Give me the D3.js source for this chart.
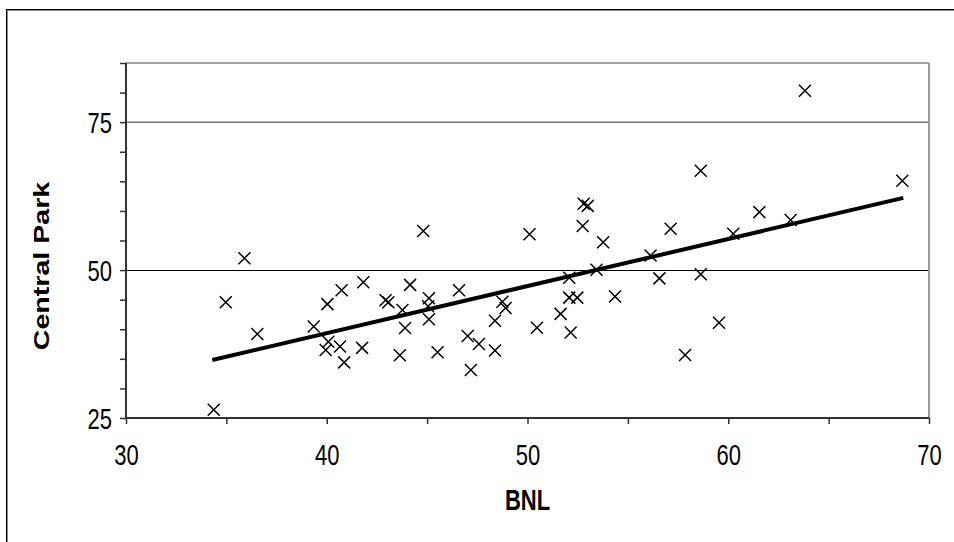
<!DOCTYPE html>
<html>
<head>
<meta charset="utf-8">
<script src="https://cdn.jsdelivr.net/npm/d3@7"></script>
<style>
  html, body { margin: 0; padding: 0; background: #fff; }
  svg { display: block; }
  text { font-family: "Liberation Sans", Arial, sans-serif; fill: #000; }
</style>
</head>
<body>
<svg id="chart" width="954" height="542"></svg>
<script>
// ---- Data ----
const bnl = [34.37,34.97,35.9,36.54,39.35,40.03,40.74,41.82,42.93,43.07,43.77,44.15,43.9,40.08,39.95,40.66,40.87,41.76,43.64,44.81,45.09,45.05,45.09,46.59,45.52,47.02,47.58,47.18,48.38,48.38,48.75,48.91,50.47,50.1,51.65,52.08,52.08,52.48,52.15,52.75,52.8,53.0,53.44,53.77,54.36,56.13,56.57,57.13,57.85,58.63,58.63,59.54,60.25,61.55,63.11,63.82,68.67];
const centralPark = [26.4,44.55,52.0,39.2,40.45,44.25,46.6,47.95,44.9,44.55,43.25,47.5,40.2,37.9,36.5,37.1,34.4,36.85,35.6,56.6,45.25,43.9,41.7,46.6,36.1,38.86,37.5,33.1,36.4,41.45,44.65,43.6,40.25,56.05,42.6,48.7,45.35,45.35,39.45,57.45,61.2,60.85,50.05,54.7,45.55,52.45,48.6,57.0,35.65,66.8,49.3,41.1,56.15,59.8,58.45,80.3,65.1];
const trendX = [34.3, 68.72];
const trendY = [34.8, 62.2];
const xTickLabels = [30, 40, 50, 60, 70];
const yTickLabels = [25, 50, 75];
const xDomain = [30, 70];
const yDomain = [25, 85];

// ---- Layout ----
const svg = d3.select("#chart");
const pLeft = 126, pRight = 929, pTop = 63, pBottom = 418;
const stretch = 1.3; // glyphs in the reference are taller than wide

// outer frame
svg.append("rect").attr("x", 7).attr("y", 10).attr("width", 960).attr("height", 560)
  .attr("fill", "none").attr("stroke", "#888").attr("stroke-width", 2);
svg.append("rect").attr("x", 6.5).attr("y", 9.5).attr("width", 960).attr("height", 560)
  .attr("fill", "none").attr("stroke", "#000").attr("stroke-width", 1);

const x = d3.scaleLinear().domain(xDomain).range([pLeft, pRight]);
const y = d3.scaleLinear().domain(yDomain).range([pBottom, pTop]);

// gridlines
const g = svg.append("g");
g.append("line").attr("x1", pLeft).attr("x2", pRight).attr("y1", y(85)).attr("y2", y(85))
  .attr("stroke", "#808080").attr("stroke-width", 1.5);
g.append("line").attr("x1", pLeft).attr("x2", pRight).attr("y1", y(75)).attr("y2", y(75))
  .attr("stroke", "#707070").attr("stroke-width", 1.5);
g.append("line").attr("x1", pLeft).attr("x2", pRight).attr("y1", Math.round(y(50)) + 0.5).attr("y2", Math.round(y(50)) + 0.5)
  .attr("stroke", "#000").attr("stroke-width", 1);
// right border
g.append("line").attr("x1", pRight).attr("x2", pRight).attr("y1", pTop).attr("y2", pBottom)
  .attr("stroke", "#999").attr("stroke-width", 2);

// axes
const xAxis = d3.axisBottom(x).tickValues(d3.range(30, 71, 5)).tickSize(6)
  .tickFormat(d => xTickLabels.includes(d) ? d : "");
const yAxis = d3.axisLeft(y).tickValues(d3.range(25, 86, 5)).tickSize(6)
  .tickFormat(d => yTickLabels.includes(d) ? d : "");

const gx = svg.append("g").attr("transform", `translate(0,${pBottom})`).call(xAxis);
const gy = svg.append("g").attr("transform", `translate(${pLeft},0)`).call(yAxis);
[gx, gy].forEach(a => {
  a.attr("font-size", 22).attr("font-family", "'Liberation Sans', Arial, sans-serif");
  a.select(".domain").attr("stroke", "#333").attr("stroke-width", 2);
  a.selectAll(".tick line").attr("stroke", "#333").attr("stroke-width", 1.5);
  a.selectAll(".tick text").attr("font-size", 22).attr("fill", "#000");
});
gx.selectAll(".tick text").attr("x", 0).attr("y", 0).attr("dy", null)
  .attr("text-anchor", "middle")
  .attr("transform", `translate(0,47) scale(1,${stretch})`);
gy.selectAll(".tick text").attr("x", 0).attr("y", 0).attr("dy", null)
  .attr("text-anchor", "end")
  .attr("transform", `translate(-14,10) scale(1,${stretch})`);
gy.select(".domain").attr("d", `M0,${pBottom}V${pTop}`);
gx.select(".domain").attr("d", `M${pLeft},0H${pRight}`);

// trendline
svg.append("line")
  .attr("x1", x(trendX[0])).attr("y1", y(trendY[0]))
  .attr("x2", x(trendX[1])).attr("y2", y(trendY[1]))
  .attr("stroke", "#000").attr("stroke-width", 4);

// markers
const pts = bnl.map((v, i) => [v, centralPark[i]]);
const s = 6;
svg.append("g").selectAll("path").data(pts).join("path")
  .attr("d", d => {
    const cx = x(d[0]), cy = y(d[1]);
    return `M${cx - s},${cy - s}L${cx + s},${cy + s}M${cx - s},${cy + s}L${cx + s},${cy - s}`;
  })
  .attr("stroke", "#000").attr("stroke-width", 1.5).attr("fill", "none");

// axis titles
svg.append("text").attr("transform", `translate(${(pLeft + pRight) / 2},510) scale(1,${stretch})`)
  .attr("text-anchor", "middle").attr("font-size", 22).attr("font-weight", "bold").text("BNL");
svg.append("text").attr("transform", `translate(49,266) scale(1,${stretch}) rotate(-90)`)
  .attr("text-anchor", "middle").attr("font-size", 22).attr("font-weight", "bold").text("Central Park");
</script>
</body>
</html>
